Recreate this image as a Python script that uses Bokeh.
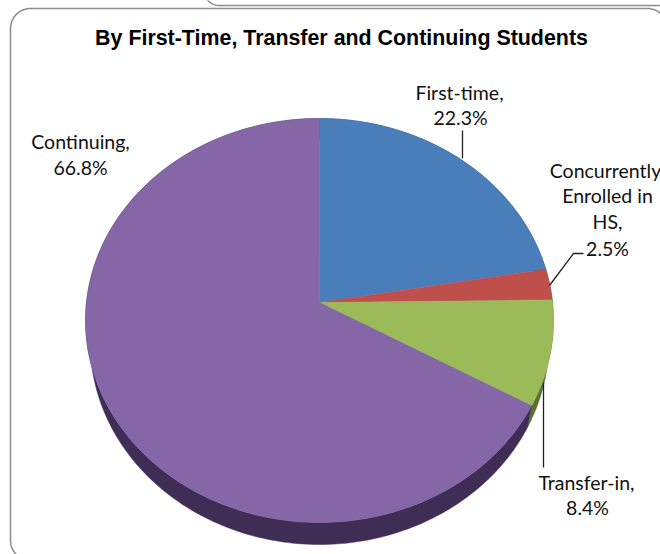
import numpy as np
from bokeh.plotting import figure
from bokeh.models import Range1d
from bokeh.core.properties import value
from bokeh.embed import file_html
from bokeh.resources import INLINE

categories = ["First-time", "Concurrently Enrolled in HS", "Transfer-in", "Continuing"]
shares = [22.3, 2.5, 8.4, 66.8]
top_colors = ["#4a7ebb", "#bf4f4b", "#9bbb59", "#8566a6"]
side_colors = ["#2c4c70", "#73302e", "#5c7035", "#3f2d55"]
title = "By First-Time, Transfer and Continuing Students"
label_lines = ["First-time,", "22.3%", "Continuing,", "66.8%", "Concurrently", "Enrolled in", "HS,", "2.5%", "Transfer-in,", "8.4%"]
label_x = [459, 460, 80, 80, 605, 607, 607, 607, 586, 587]
label_y = [92, 117, 141, 167, 170, 195, 221, 248, 482, 507]

CX, CY, A, B, K, DEPTH, RIM_SCALE = 319, 302, 233, 200.4, 0.0891, 22, 0.98


def project(theta):
    u, v = np.sin(theta), np.cos(theta)
    d = 1 + K * v
    return CX + A * u / d, CY - B * v / d


p = figure(width=660, height=554, output_backend="svg", toolbar_location=None,
           x_range=Range1d(0, 660), y_range=Range1d(554, 0),
           min_border=0, outline_line_color=None, background_fill_color="white",
           border_fill_color="white")
p.xaxis.visible = False
p.yaxis.visible = False
p.grid.visible = False


def rounded(x0, y0, x1, y1, r):
    t = np.linspace(0, np.pi / 2, 16)
    xs = np.r_[x0 + r - r * np.cos(t), x1 - r + r * np.sin(t), x1 - r + r * np.cos(t), x0 + r - r * np.sin(t), x0]
    ys = np.r_[y0 + r - r * np.sin(t), y0 + r - r * np.cos(t), y1 - r + r * np.sin(t), y1 - r + r * np.cos(t), y0 + r]
    return xs, ys


# slide panels behind the chart
x, y = rounded(203, -30, 900, 5, 16)
p.line(x, y, line_color="#8c8c8c", line_width=1.5)
x, y = rounded(10, 8, 667, 560, 20)
p.line(x, y, line_color="#8c8c8c", line_width=1.5)

edges = np.r_[0, np.cumsum(shares)] / sum(shares) * 2 * np.pi

# extruded rim: the lower outline is slightly narrower, as it lies further from the viewer
for a0, a1, c in zip(edges[:-1], edges[1:], side_colors):
    t = np.linspace(a0, a1, 200)
    x, y = project(t)
    xb = CX + (x - CX) * RIM_SCALE
    p.patch(np.r_[x, xb[::-1]], np.r_[y, y[::-1] + DEPTH], fill_color=c, line_color=c, line_width=0.5)

# top face
for a0, a1, c in zip(edges[:-1], edges[1:], top_colors):
    t = np.linspace(a0, a1, 200)
    x, y = project(t)
    p.patch(np.r_[CX, x], np.r_[CY, y], fill_color=c, line_color=c, line_width=0.5)

# leader lines
for lx, ly in [([462, 462], [130, 158]), ([549, 573, 583], [285, 253, 253]), ([543, 543], [382, 467])]:
    p.line(lx, ly, line_color="#222222", line_width=1.3)

p.text([341], [37], text=[title], text_font=value("Liberation Sans"), text_font_style="bold",
       text_font_size="21.4px", text_align="center", text_baseline="middle", text_color="#000000")
p.text(label_x, label_y, text=label_lines, text_font=value("Lato"), text_font_size="19.5px",
       text_align="center", text_baseline="middle", text_color="#111111")

open("out.html", "w").write(file_html(p, INLINE))
